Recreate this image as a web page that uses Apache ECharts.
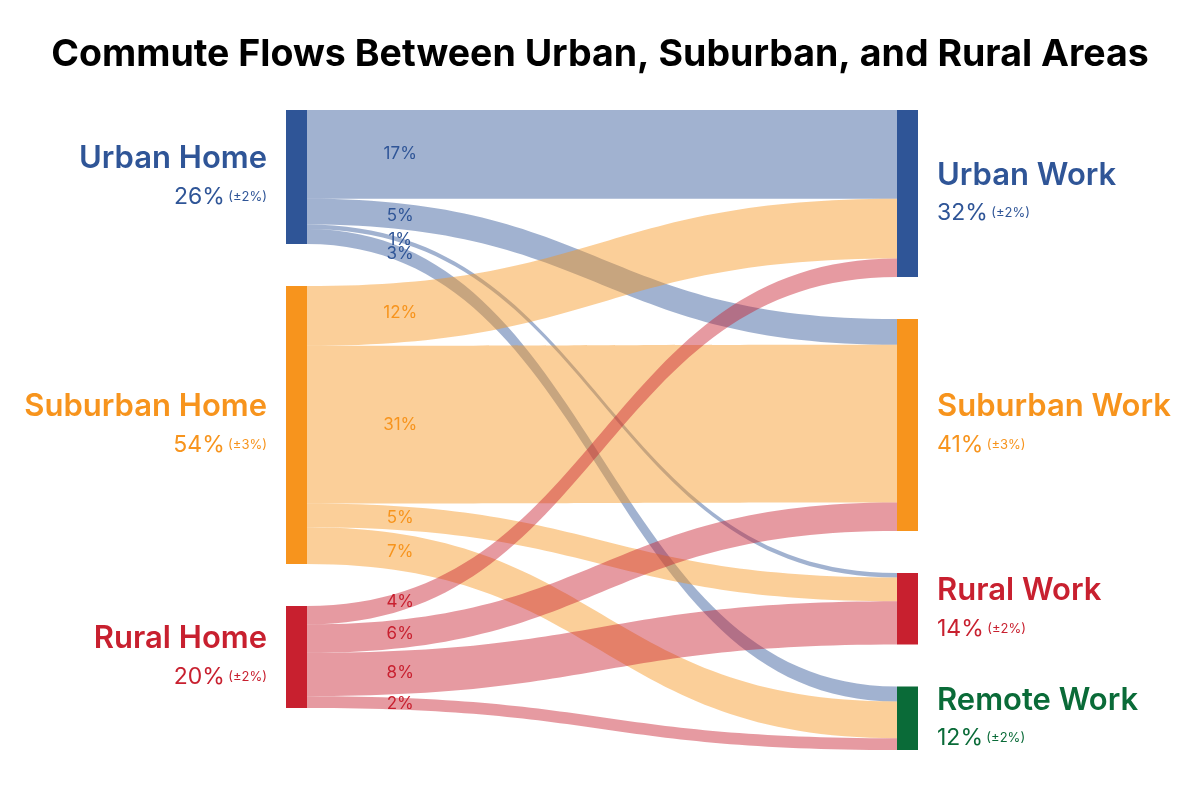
<!DOCTYPE html>
<html>
<head>
<meta charset="utf-8">
<script src="https://cdn.jsdelivr.net/npm/echarts@6/dist/echarts.min.js"></script>
<style>
html,body{margin:0;padding:0;background:#fff;}
#chart{width:1200px;height:792px;}
</style>
</head>
<body>
<div id="chart"></div>
<script>
// ---- data ----
const titleText = 'Commute Flows Between Urban, Suburban, and Rural Areas';
const nodeNames = ['Urban Home', 'Suburban Home', 'Rural Home', 'Urban Work', 'Suburban Work', 'Rural Work', 'Remote Work'];
const nodeShares = [26, 54, 20, 32, 41, 14, 12];
const nodeMargins = [2, 3, 2, 2, 3, 2, 2];
const flowSources = ['Urban Home', 'Urban Home', 'Urban Home', 'Urban Home',
  'Suburban Home', 'Suburban Home', 'Suburban Home', 'Suburban Home',
  'Rural Home', 'Rural Home', 'Rural Home', 'Rural Home'];
const flowTargets = ['Urban Work', 'Suburban Work', 'Rural Work', 'Remote Work',
  'Urban Work', 'Suburban Work', 'Rural Work', 'Remote Work',
  'Urban Work', 'Suburban Work', 'Rural Work', 'Remote Work'];
const flowValues = [17.2, 5.0, 0.9, 2.9, 11.6, 30.6, 4.6, 7.1, 3.6, 5.5, 8.4, 2.3];

// ---- style ----
const nodeColors = ['#2F5597', '#F7941D', '#C8202F', '#2F5597', '#F7941D', '#C8202F', '#0A6B38'];
const FONT = 'Inter, Roboto, "Noto Sans", sans-serif';

const chart = echarts.init(document.getElementById('chart'), null, {renderer: 'canvas'});

const nodes = nodeNames.map((n, i) => ({
  name: n,
  itemStyle: {color: nodeColors[i], borderWidth: 0},
  label: {
    position: i < 3 ? 'left' : 'right',
    distance: 19,
    align: i < 3 ? 'right' : 'left',
    color: nodeColors[i],
    rich: {
      name: {fontSize: 31, fontWeight: 600, color: nodeColors[i], lineHeight: 40, fontFamily: FONT, align: i < 3 ? 'right' : 'left'},
      pct: {fontSize: 23, fontWeight: 'normal', color: nodeColors[i], lineHeight: 36, fontFamily: FONT},
      err: {fontSize: 13, fontWeight: 'normal', color: nodeColors[i], lineHeight: 36, fontFamily: FONT}
    }
  }
}));

const links = flowSources.map((s, i) => ({source: s, target: flowTargets[i], value: flowValues[i]}));

chart.setOption({
  animation: false,
  backgroundColor: '#ffffff',
  title: {
    text: titleText,
    left: 'center',
    top: 31,
    textStyle: {fontSize: 37.5, fontWeight: 'bold', color: '#000', fontFamily: FONT}
  },
  series: [{
    type: 'sankey',
    left: 286,
    right: 282,
    top: 110,
    bottom: 42,
    nodeWidth: 21,
    nodeGap: 42,
    layoutIterations: 0,
    draggable: false,
    emphasis: {disabled: true},
    data: nodes,
    links: links,
    label: {
      show: true,
      fontFamily: FONT,
      formatter: p => `{name|${p.name}}\n{pct|${nodeShares[p.dataIndex]}%} {err|(±${nodeMargins[p.dataIndex]}%)}`
    },
    lineStyle: {color: 'source', opacity: 0.45, curveness: 0.5},
    edgeLabel: {show: false}
  }]
});

// place flow labels on each flow band, measured from the library's own layout
function placeFlowLabels() {
  const sm = chart.getModel().getSeriesByIndex(0);
  const graph = sm.getGraph();
  const li = sm.layoutInfo;
  const frac = 0.158;
  const elems = [];
  graph.edges.forEach((e) => {
    const n1 = e.node1.getLayout(), n2 = e.node2.getLayout(), el = e.getLayout();
    const x1 = n1.x + n1.dx, y1 = n1.y + el.sy, x2 = n2.x, y2 = n2.y + el.ty;
    const tx = x1 + frac * (x2 - x1);
    const m = (x1 + x2) / 2;
    const bx = t => (1 - t) ** 3 * x1 + 3 * (1 - t) ** 2 * t * m + 3 * (1 - t) * t * t * m + t ** 3 * x2;
    let lo = 0, hi = 1;
    for (let k = 0; k < 40; k++) { const mid = (lo + hi) / 2; if (bx(mid) < tx) lo = mid; else hi = mid; }
    const t = (lo + hi) / 2;
    const by = (1 - t) ** 3 * y1 + 3 * (1 - t) ** 2 * t * y1 + 3 * (1 - t) * t * t * y2 + t ** 3 * y2;
    const srcIdx = nodeNames.indexOf(flowSources[e.dataIndex]);
    elems.push({
      type: 'text',
      x: li.x + tx,
      y: li.y + by + el.dy / 2,
      silent: true,
      style: {
        text: Math.round(flowValues[e.dataIndex]) + '%',
        fill: nodeColors[srcIdx],
        fontSize: 17,
        fontFamily: FONT,
        align: 'center',
        verticalAlign: 'middle'
      },
      z: 100
    });
  });
  chart.setOption({graphic: elems});
}
placeFlowLabels();
</script>
</body>
</html>
